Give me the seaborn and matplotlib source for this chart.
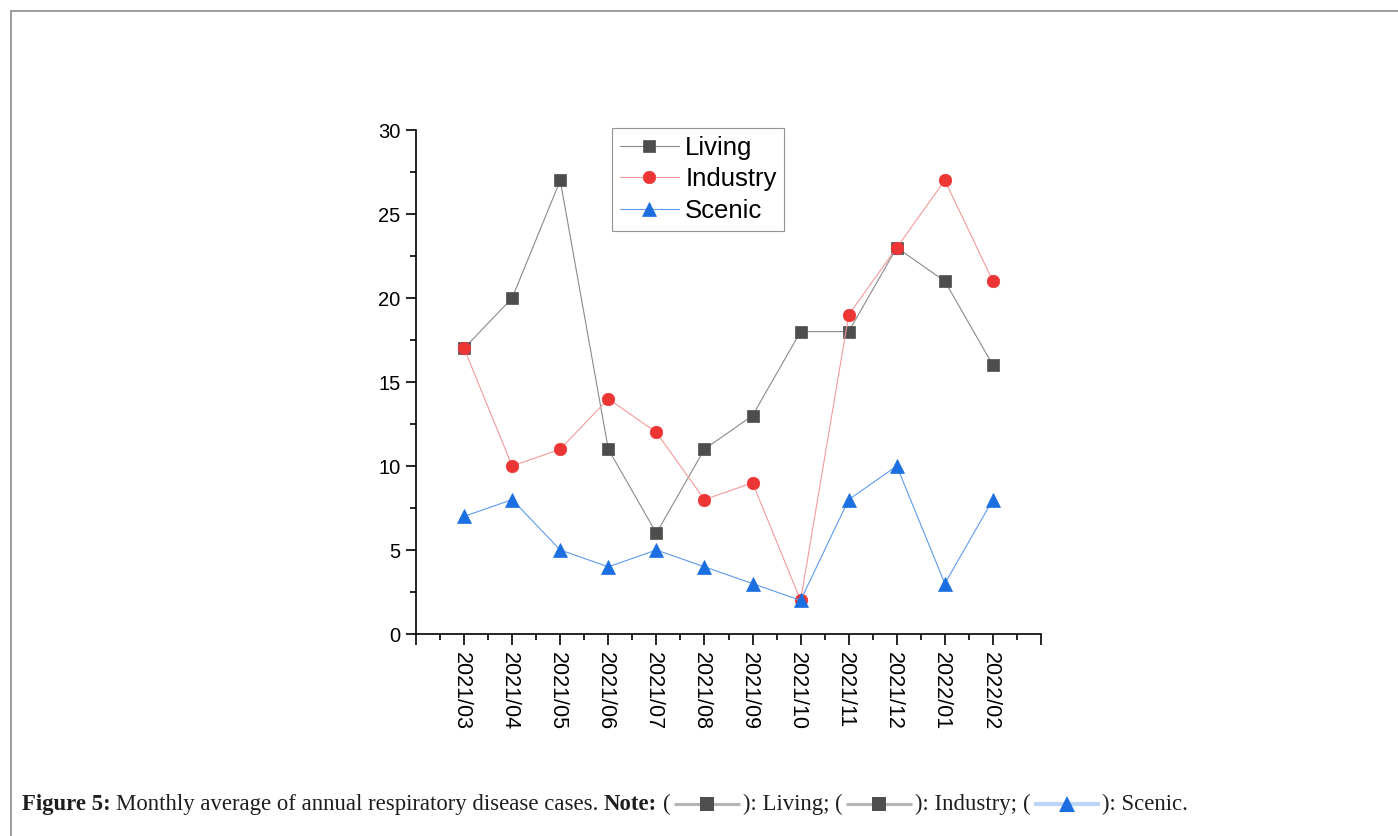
import numpy as np
import pandas as pd
import matplotlib
matplotlib.use("Agg")
import matplotlib.pyplot as plt
import seaborn as sns
from matplotlib.lines import Line2D
from matplotlib.ticker import MultipleLocator
from matplotlib.transforms import IdentityTransform, ScaledTranslation

months = ["2021/03", "2021/04", "2021/05", "2021/06", "2021/07", "2021/08",
          "2021/09", "2021/10", "2021/11", "2021/12", "2022/01", "2022/02"]
living = [17, 20, 27, 11, 6, 11, 13, 18, 18, 23, 21, 16]
industry = [17, 10, 11, 14, 12, 8, 9, 2, 19, 23, 27, 21]
scenic = [7, 8, 5, 4, 5, 4, 3, 2, 8, 10, 3, 8]
series_names = ["Living", "Industry", "Scenic"]
y_ticks = [0, 5, 10, 15, 20, 25, 30]

sns.set_theme(style="ticks")
plt.rcParams["font.family"] = ["Liberation Sans", "DejaVu Sans"]

W, H = 1398, 836
fig = plt.figure(figsize=(W / 100, H / 100), dpi=100)
fig.patch.set_facecolor("white")
ax = fig.add_axes([416 / W, 1 - 634 / H, 625 / W, 504 / H])

df = pd.DataFrame({"pos": np.arange(len(months)), "Living": living,
                   "Industry": industry, "Scenic": scenic})

styles = {
    "Living": dict(marker="s", mc="#4d4d4d", lc="#8a8a8a", ms=8.5),
    "Industry": dict(marker="o", mc="#ee3535", lc="#f49a9a", ms=9.0),
    "Scenic": dict(marker="^", mc="#1b6fe0", lc="#5f9bef", ms=10.0),
}
for name in series_names:
    st = styles[name]
    sns.lineplot(data=df, x="pos", y=name, ax=ax, color=st["lc"], linewidth=0.8,
                 marker=st["marker"], markersize=st["ms"],
                 markerfacecolor=st["mc"], markeredgecolor=st["mc"],
                 markeredgewidth=0.5, legend=False)

lines = ax.get_lines()
leg = ax.legend(lines[:3], series_names, loc="upper left",
                bbox_to_anchor=(0.3136, 1.004), borderaxespad=0,
                fontsize=18.5, frameon=True, fancybox=False,
                handlelength=2.3, handletextpad=0.25, labelspacing=0.3,
                borderpad=0.3)
leg.get_frame().set_edgecolor("#777777")
leg.get_frame().set_linewidth(0.8)
for t in leg.get_texts():
    t.set_color("black")

ax.set_xlim(-1, 12)
ax.set_ylim(0, 30)
ax.set_xticks(np.arange(-1, 13))
ax.set_xticklabels([""] + months + [""])
ax.set_xticks(np.arange(-0.5, 12.5, 1), minor=True)
ax.set_yticks(y_ticks)
ax.set_yticklabels([str(v) for v in y_ticks])
ax.yaxis.set_minor_locator(MultipleLocator(2.5))
ax.set_xlabel("")
ax.set_ylabel("")

ax.tick_params(axis="x", which="major", length=8, width=1.2, direction="out",
               labelsize=15.5, labelrotation=270, pad=5, color="black", labelcolor="black")
ax.tick_params(axis="x", which="minor", length=4.5, width=1.2, direction="out", color="black")
ax.tick_params(axis="y", which="major", length=7, width=1.2, direction="out",
               labelsize=14.5, pad=4, color="black", labelcolor="black")
ax.tick_params(axis="y", which="minor", length=4, width=1.2, direction="out", color="black")
shift = ScaledTranslation(-3 / 100, 0, fig.dpi_scale_trans)
for lab in ax.get_xticklabels():
    lab.set_va("top")
    lab.set_ha("center")
    lab.set_transform(lab.get_transform() + shift)
sns.despine(ax=ax)
for s in ["left", "bottom"]:
    ax.spines[s].set_linewidth(1.2)
    ax.spines[s].set_color("black")

# Page border (top and left)
idt = IdentityTransform()
fig.add_artist(Line2D([10.5, W], [H - 10.5, H - 10.5], transform=idt, color="#8c8c8c", lw=1.2))
fig.add_artist(Line2D([10.5, 10.5], [0, H - 10.5], transform=idt, color="#8c8c8c", lw=1.2))

# Caption
fig.canvas.draw()
r = fig.canvas.get_renderer()
cap_fs = 16.4
base_y = H - 810
state = {"x": 22.0}


def put_text(s, bold=False):
    t = fig.text(state["x"] / W, base_y / H, s, fontsize=cap_fs,
                 family=["Liberation Serif", "DejaVu Serif"],
                 weight="bold" if bold else "normal",
                 va="baseline", ha="left", color="#1e1e1e")
    bb = t.get_window_extent(r)
    state["x"] = bb.x1


def put_gap(px):
    state["x"] += px


def put_icon(lc, lw, mk, mc, ms):
    w = 66
    yc = base_y + 6
    x0 = state["x"] + 3
    fig.add_artist(Line2D([x0, x0 + w], [yc, yc], transform=idt, color=lc, lw=lw,
                          solid_capstyle="butt"))
    fig.add_artist(Line2D([x0 + w / 2], [yc], transform=idt, marker=mk, color=mc,
                          markersize=ms, markeredgewidth=0, linestyle="none"))
    state["x"] = x0 + w + 3


put_text("Figure 5:", bold=True)
put_gap(5)
put_text("Monthly average of annual respiratory disease cases.")
put_gap(6)
put_text("Note:", bold=True)
put_gap(6)
put_text("(")
put_icon("#b5b5b5", 2.2, "s", "#4f4f4f", 9.5)
put_text("): Living;")
put_gap(6)
put_text("(")
put_icon("#b5b5b5", 2.2, "s", "#4f4f4f", 9.5)
put_text("): Industry;")
put_gap(6)
put_text("(")
put_icon("#bcd5f7", 3.0, "^", "#1a6ee0", 11)
put_text("): Scenic.")

fig.savefig("out.png", dpi=100, facecolor="white")
